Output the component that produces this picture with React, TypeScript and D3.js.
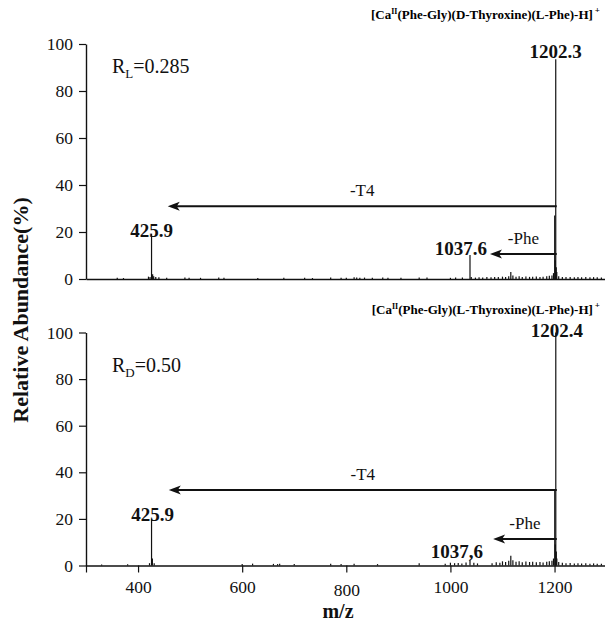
import React, { useEffect, useRef } from 'react';
import * as d3 from 'd3';

const width = 605;
const height = 621;
const font = '"Liberation Serif", "Times New Roman", serif';

// y ticks and x ticks (m/z)
const yTicks = [0, 20, 40, 60, 80, 100];
const xTicks = [300, 400, 600, 800, 1000, 1200];

// [m/z, relative abundance %] -- D-thyroxine complex (top)
const topPeaks: [number, number][] = [
    [360, 0.5], [372, 0.4], [420, 1.0], [423, 0.8], [425.9, 19.3], [428, 2.0], [430, 1.2], [434, 0.8],
    [440, 0.7], [455, 0.5], [490, 0.6], [498, 0.5], [520, 0.5], [555, 0.6], [565, 0.5], [630, 0.4],
    [680, 0.5], [720, 0.5], [735, 0.4], [770, 0.6], [790, 0.5], [800, 0.5], [815, 0.7], [820, 0.6],
    [826, 0.5], [835, 0.6], [850, 0.5], [870, 0.6], [880, 0.5], [905, 0.5], [940, 0.6], [955, 0.6],
    [1000, 0.5], [1010, 0.6], [1023, 0.6], [1037.6, 10.2], [1040, 0.8], [1048, 0.6], [1055, 0.7],
    [1062, 0.6], [1070, 0.8], [1078, 0.7], [1085, 0.9], [1092, 0.8], [1100, 1.0], [1106, 0.9],
    [1112, 1.2], [1116, 3.0], [1120, 1.5], [1126, 1.0], [1132, 1.2], [1138, 0.9], [1145, 1.1],
    [1152, 0.9], [1158, 1.0], [1165, 1.1], [1172, 0.9], [1178, 1.0], [1185, 1.2], [1190, 1.4],
    [1195, 1.5], [1198, 2.5], [1200.3, 27], [1201.3, 8], [1202.3, 93.5], [1203.3, 5], [1204.3, 3],
    [1208, 1.2], [1215, 0.9], [1222, 0.8], [1230, 0.9], [1238, 0.7], [1245, 0.8], [1252, 0.7],
    [1260, 0.8], [1268, 0.7], [1275, 0.8], [1282, 0.7], [1290, 0.6]
];

// [m/z, relative abundance %] -- L-thyroxine complex (bottom)
const bottomPeaks: [number, number][] = [
    [330, 0.4], [380, 0.5], [422, 1.0], [425.9, 20], [427.5, 3.0], [431, 1.0], [600, 0.6], [620, 0.8],
    [660, 0.7], [668, 0.6], [672, 0.7], [700, 0.6], [770, 0.8], [790, 0.6], [815, 0.8], [860, 0.6],
    [940, 1.0], [990, 0.8], [1000, 1.2], [1008, 1.0], [1015, 1.1], [1022, 0.9], [1030, 1.3],
    [1037.6, 2.4], [1045, 1.2], [1052, 0.9], [1080, 1.0], [1088, 1.4], [1095, 1.2], [1100, 1.8],
    [1106, 1.5], [1112, 2.0], [1116, 4.2], [1120, 2.2], [1126, 1.6], [1132, 1.8], [1138, 1.4],
    [1145, 1.7], [1152, 1.5], [1158, 1.6], [1165, 1.4], [1172, 1.5], [1178, 1.3], [1185, 1.6],
    [1190, 1.8], [1195, 2.0], [1198, 3.0], [1200.4, 32], [1201.4, 9], [1202.4, 100], [1203.4, 6],
    [1204.4, 3], [1208, 1.5], [1215, 1.2], [1222, 1.0], [1230, 1.1], [1238, 0.9], [1245, 1.0],
    [1252, 0.9], [1260, 1.0], [1268, 0.8], [1275, 0.9], [1282, 0.8], [1290, 0.7]
];

// peak labels
const topLabels = [
    { mz: 1202.3, value: 93.5, text: '1202.3' },
    { mz: 425.9, value: 19.3, text: '425.9' },
    { mz: 1037.6, value: 10.2, text: '1037.6' }
];
const bottomLabels = [
    { mz: 1202.4, value: 100, text: '1202.4' },
    { mz: 425.9, value: 20, text: '425.9' },
    { mz: 1037.6, value: 2.4, text: '1037,6' }
];
// label nudges in px [dx, dy], same order as labels
const topNudge = [[0, -1], [0, 3], [-9, 0]];
const bottomNudge = [[1, 4], [1, 2], [-13, -2]];

// neutral loss arrows (m/z from -> to, level in %)
const topArrows = [
    { text: '-T4', from: 1202.3, to: 457, level: 31 },
    { text: '-Phe', from: 1202.3, to: 1076, level: 10.6 }
];
const bottomArrows = [
    { text: '-T4', from: 1202.4, to: 459, level: 32.4 },
    { text: '-Phe', from: 1202.4, to: 1082, level: 11.4 }
];

const panels = [
    { key: 'top', peaks: topPeaks, labels: topLabels, nudge: topNudge, arrows: topArrows,
      y0: 279, y1: 44, ratio: 'L', ratioVal: '=0.285', stereo: 'D', showX: false },
    { key: 'bottom', peaks: bottomPeaks, labels: bottomLabels, nudge: bottomNudge, arrows: bottomArrows,
      y0: 565.5, y1: 332.5, ratio: 'D', ratioVal: '=0.50', stereo: 'L', showX: true }
];

const App = () => {
    const svgRef = useRef<SVGSVGElement>(null);

    useEffect(() => {
        const svg = d3.select(svgRef.current);
        svg.selectAll('*').remove();

        const xScale = d3.scaleLinear().domain([300, 1300]).range([86, 606.6]);

        panels.forEach(p => {
            const yScale = d3.scaleLinear().domain([0, 100]).range([p.y0, p.y1]);
            const g = svg.append('g').attr('class', p.key);

            // title
            const title = g.append('text')
                .attr('x', 600).attr('y', p.key === 'top' ? 19 : 314)
                .attr('text-anchor', 'end')
                .attr('font-family', font).attr('font-weight', 'bold').attr('font-size', 13);
            title.append('tspan').text('[Ca');
            title.append('tspan').attr('font-size', 8).attr('dy', -5).text('II');
            title.append('tspan').attr('dy', 5).text(`(Phe-Gly)(${p.stereo}-Thyroxine)(L-Phe)-H]`);
            title.append('tspan').attr('font-size', 9).attr('dy', -6).attr('dx', 2).text('+');

            // y axis
            const yAxis = d3.axisLeft(yScale).tickValues(yTicks).tickSize(7).tickSizeOuter(0).tickPadding(6);
            const ya = g.append('g').attr('transform', 'translate(86,0)').call(yAxis);
            ya.select('.domain').attr('stroke', '#111').attr('stroke-width', 1.4);
            ya.selectAll('.tick line').attr('stroke', '#111').attr('stroke-width', 1.2);
            ya.selectAll('.tick text').attr('font-family', font).attr('font-size', 17.5).attr('fill', '#111');

            // x axis
            const xAxis = d3.axisBottom(xScale)
                .tickValues(p.showX ? xTicks : [])
                .tickFormat(d => (+d === 300 ? '' : String(d)))
                .tickSize(7).tickSizeOuter(0).tickPadding(8);
            const xa = g.append('g').attr('transform', `translate(0,${p.y0})`).call(xAxis);
            xa.select('.domain').attr('stroke', '#111').attr('stroke-width', 1.4);
            xa.selectAll('.tick line').attr('stroke', '#111').attr('stroke-width', 1.2);
            xa.selectAll('.tick text').attr('font-family', font).attr('font-size', 17.5).attr('fill', '#111')
                .attr('dy', d => (+d === 800 ? '0.88em' : '0.71em'));

            // peaks
            g.append('g').selectAll('line')
                .data(p.peaks)
                .join('line')
                .attr('x1', d => xScale(d[0])).attr('x2', d => xScale(d[0]))
                .attr('y1', yScale(0)).attr('y2', d => yScale(d[1]))
                .attr('stroke', '#111').attr('stroke-width', 1.2);

            // peak labels
            g.append('g').selectAll('text')
                .data(p.labels)
                .join('text')
                .attr('x', (d, i) => xScale(d.mz) + p.nudge[i][0])
                .attr('y', (d, i) => yScale(d.value) + p.nudge[i][1])
                .attr('text-anchor', 'middle')
                .attr('font-family', font).attr('font-weight', 'bold').attr('font-size', 19)
                .attr('fill', '#111')
                .text(d => d.text);

            // arrows
            p.arrows.forEach(a => {
                const ay = yScale(a.level);
                const xf = xScale(a.from) + 1;
                const xt = xScale(a.to);
                g.append('line')
                    .attr('x1', xf).attr('x2', xt + 8)
                    .attr('y1', ay).attr('y2', ay)
                    .attr('stroke', '#111').attr('stroke-width', 2);
                g.append('path')
                    .attr('d', `M${xt},${ay}L${xt + 12},${ay - 4.5}L${xt + 9},${ay}L${xt + 12},${ay + 4.5}Z`)
                    .attr('fill', '#111');
                g.append('text')
                    .attr('x', (xf + xt) / 2).attr('y', ay - 10)
                    .attr('text-anchor', 'middle')
                    .attr('font-family', font).attr('font-size', 17).attr('fill', '#111')
                    .text(a.text);
            });

            // chiral ratio label
            const r = g.append('text')
                .attr('x', 112).attr('y', p.key === 'top' ? 73 : 372)
                .attr('font-family', font).attr('font-size', 20).attr('fill', '#111');
            r.append('tspan').text('R');
            r.append('tspan').attr('font-size', 13).attr('dy', 5).text(p.ratio);
            r.append('tspan').attr('dy', -5).text(p.ratioVal);
        });

        // axis titles
        svg.append('text')
            .attr('transform', 'translate(28,310) rotate(-90)')
            .attr('text-anchor', 'middle')
            .attr('font-family', font).attr('font-weight', 'bold').attr('font-size', 22)
            .attr('fill', '#111')
            .text('Relative Abundance(%)');

        svg.append('text')
            .attr('x', 338).attr('y', 618)
            .attr('text-anchor', 'middle')
            .attr('font-family', font).attr('font-weight', 'bold').attr('font-size', 20)
            .attr('fill', '#111')
            .text('m/z');
    }, []);

    return (
        <svg ref={svgRef} width={width} height={height}
            style={{ position: 'absolute', left: 0, top: 0, background: '#fff' }} />
    );
};

export default App;
